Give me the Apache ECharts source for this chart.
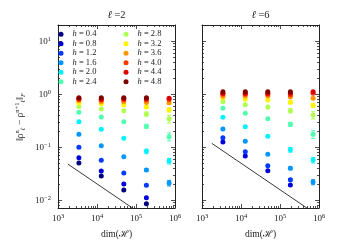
<!DOCTYPE html>
<html><head><meta charset="utf-8">
<script src="https://cdn.jsdelivr.net/npm/echarts@6/dist/echarts.min.js"></script>
<style>html,body{margin:0;padding:0;background:#fff}#c{width:338px;height:250px}</style>
</head><body><div id="c"></div>
<script>
const dims = [3432, 12870, 48620, 184756, 705432];
const hNames = ['h = 0.4','h = 0.8','h = 1.2','h = 1.6','h = 2.0','h = 2.4','h = 2.8','h = 3.2','h = 3.6','h = 4.0','h = 4.4','h = 4.8'];
const colors = ['#000080','#0000dc','#003aff','#0097ff','#00f3ff','#51ffae','#aeff51','#fff300','#ff9700','#ff3a00','#dc0000','#800000'];
const panelTitles = ['2', '6'];
// ℓ = 2 values, one array per h
const l2_h04 = [0.0506, 0.0288, 0.0156, 0.0086, null];
const l2_h08 = [0.0637, 0.0357, 0.0203, 0.0112, null];
const l2_h12 = [0.100, 0.0569, 0.0327, 0.0192, null];
const l2_h16 = [0.176, 0.107, 0.0665, 0.0373, 0.0212];
const l2_h20 = [0.304, 0.218, 0.148, 0.084, 0.0552];
const l2_h24 = [0.457, 0.373, 0.304, 0.249, 0.159];
const l2_h28 = [0.59, 0.528, 0.49, 0.425, 0.346];
const l2_h32 = [0.685, 0.665, 0.63, 0.576, 0.51];
const l2_h36 = [0.76, 0.725, 0.72, 0.70, 0.69];
const l2_h40 = [0.80, 0.78, 0.79, 0.78, 0.80];
const l2_h44 = [0.83, 0.81, 0.82, 0.82, 0.84];
const l2_h48 = [0.86, 0.86, 0.86, 0.86, null];
// ℓ = 6 values
const l6_h04 = [null, null, null, null, null];
const l6_h08 = [0.126, 0.0685, 0.0362, 0.0194, null];
const l6_h12 = [0.152, 0.0826, 0.045, 0.0245, null];
const l6_h16 = [0.221, 0.13, 0.0738, 0.0402, 0.0221];
const l6_h20 = [0.368, 0.245, 0.161, 0.090, 0.0575];
const l6_h24 = [0.545, 0.438, 0.347, 0.272, 0.176];
const l6_h28 = [0.725, 0.636, 0.576, 0.49, 0.407];
const l6_h32 = [0.86, 0.805, 0.78, 0.706, 0.62];
const l6_h36 = [0.917, 0.93, 0.93, 0.89, 0.84];
const l6_h40 = [1.0, 1.0, 1.0, 0.97, 1.05];
const l6_h44 = [1.05, 1.05, 1.05, 1.05, 1.12];
const l6_h48 = [1.12, 1.12, 1.12, 1.12, null];
// relative error half-widths at the two largest dims, one entry per h
const errL2c4 = [0, 0, 0, 0.06, 0.10, 0.09, 0.09, 0.06, 0.03, 0, 0, 0];
const errL2c5 = [0, 0, 0, 0.12, 0.12, 0.17, 0.17, 0.09, 0.05, 0.03, 0.03, 0];
const errL6c4 = [0, 0, 0.05, 0.06, 0.10, 0.09, 0.09, 0.06, 0.03, 0, 0, 0];
const errL6c5 = [0, 0, 0, 0.11, 0.12, 0.17, 0.16, 0.09, 0.05, 0.03, 0.03, 0];
// reference lines ~ dim^(-1/2)
const refLineX = [1778, 1000000];
const refLineL2 = [0.0484, 0.00204];
const refLineL6 = [0.119, 0.005];
const xTicks = [1000, 10000, 100000, 1000000];
const yTicks = [0.01, 0.1, 1, 10];

const L2 = [l2_h04,l2_h08,l2_h12,l2_h16,l2_h20,l2_h24,l2_h28,l2_h32,l2_h36,l2_h40,l2_h44,l2_h48];
const L6 = [l6_h04,l6_h08,l6_h12,l6_h16,l6_h20,l6_h24,l6_h28,l6_h32,l6_h36,l6_h40,l6_h44,l6_h48];
const panels = [
  {vals: L2, err: [errL2c4, errL2c5], line: refLineL2},
  {vals: L6, err: [errL6c4, errL6c5], line: refLineL6}
];
const FONT = 'Liberation Serif, DejaVu Serif, serif';
const supRich = {
  b: {fontFamily: FONT, fontSize: 9, color: '#222', lineHeight: 12},
  s: {fontFamily: FONT, fontSize: 6.5, color: '#222', verticalAlign: 'top', lineHeight: 12, padding: [0,0,4,0]}
};
function expLabel(v) {
  const e = Math.round(Math.log10(v));
  if (Math.abs(Math.log10(v) - e) > 1e-6) return '';
  return '{b|10}{s|' + (e < 0 ? '−' + (-e) : e) + '}';
}
const YMIN = Math.pow(10, -2.145), YMAX = Math.pow(10, 1.3075);
const grids = [
  {left: 58, top: 25, width: 117, height: 183},
  {left: 202, top: 25, width: 117, height: 183}
];
const xAxes = [], yAxes = [];
function axisBase(type, extra) {
  return Object.assign({
    type: 'log', logBase: 10,
    axisLine: {show: true, onZero: false, lineStyle: {color: '#222', width: 1}},
    axisTick: {show: true, inside: true, length: 4, lineStyle: {color: '#222', width: 0.8}},
    minorTick: {show: true, splitNumber: 9, length: 2, lineStyle: {color: '#222', width: 0.8}},
    splitLine: {show: false}, minorSplitLine: {show: false}
  }, extra);
}
for (let p = 0; p < 2; p++) {
  xAxes.push(axisBase('x', {gridIndex: p, position: 'bottom', min: 1000, max: 1000000,
    axisLabel: {show: true, margin: 5, formatter: expLabel, rich: supRich}}));
  xAxes.push(axisBase('x', {gridIndex: p, position: 'top', min: 1000, max: 1000000, axisLabel: {show: false}}));
  yAxes.push(axisBase('y', {gridIndex: p, position: 'left', min: YMIN, max: YMAX,
    axisLabel: {show: p === 0, margin: 7, formatter: expLabel, rich: supRich}}));
  yAxes.push(axisBase('y', {gridIndex: p, position: 'right', min: YMIN, max: YMAX, axisLabel: {show: false}}));
}
const series = [];
panels.forEach((pn, p) => {
  // error bars
  const errData = [];
  pn.err.forEach((arr, k) => {
    const j = 3 + k;
    arr.forEach((e, i) => {
      const v = pn.vals[i][j];
      if (v != null && e > 0) errData.push([dims[j], v * (1 - e), v * (1 + e), i]);
    });
  });
  series.push({
    type: 'custom', xAxisIndex: p * 2, yAxisIndex: p * 2, z: 1, silent: true,
    data: errData,
    encode: {x: 0, y: [1, 2]},
    renderItem: function (params, api) {
      const lo = api.coord([api.value(0), api.value(1)]);
      const hi = api.coord([api.value(0), api.value(2)]);
      const c = colors[api.value(3)];
      const w = 2;
      const st = {stroke: c, lineWidth: 1};
      return {type: 'group', children: [
        {type: 'line', shape: {x1: lo[0], y1: lo[1], x2: hi[0], y2: hi[1]}, style: st},
        {type: 'line', shape: {x1: lo[0] - w, y1: lo[1], x2: lo[0] + w, y2: lo[1]}, style: st},
        {type: 'line', shape: {x1: hi[0] - w, y1: hi[1], x2: hi[0] + w, y2: hi[1]}, style: st}
      ]};
    }
  });
  pn.vals.forEach((arr, i) => {
    const data = [];
    arr.forEach((v, j) => { if (v != null) data.push([dims[j], v]); });
    series.push({
      type: 'scatter', name: hNames[i], xAxisIndex: p * 2, yAxisIndex: p * 2, z: 2 + i,
      symbol: 'circle', symbolSize: 5, data: data,
      itemStyle: {color: colors[i], opacity: 1}
    });
  });
  series.push({
    type: 'line', xAxisIndex: p * 2, yAxisIndex: p * 2, z: 20, silent: true,
    data: refLineX.map((x, k) => [x, pn.line[k]]),
    symbol: 'none', clip: true, lineStyle: {color: '#222', width: 0.9}
  });
});
const legendText = {
  fontFamily: FONT, fontSize: 8.5, color: '#222', lineHeight: 9.5, padding: [0, 0, 0, 4],
  rich: {i: {fontFamily: FONT, fontSize: 8.5, fontStyle: 'italic', color: '#222'}}
};
function legendFmt(n) { return '{i|h}' + n.slice(1); }
const legends = [
  {data: hNames.slice(0, 6), left: 58.5, top: 29.5},
  {data: hNames.slice(6), left: 123.5, top: 29.5}
].map(l => Object.assign({
  orient: 'vertical', itemWidth: 5, itemHeight: 5, itemGap: 0, padding: 0,
  icon: 'circle', textStyle: legendText, formatter: legendFmt, selectedMode: false
}, l));

const graphics = [];
panelTitles.forEach((t, p) => {
  graphics.push({type: 'text', x: grids[p].left + grids[p].width / 2, y: 15,
    style: {text: '{i|ℓ} ={n|' + t + '}', align: 'center', verticalAlign: 'middle',
      rich: {i: {fontFamily: FONT, fontSize: 10.5, fontStyle: 'italic', fill: '#222'},
             n: {fontFamily: FONT, fontSize: 10.5, fill: '#222'}},
      font: '10.5px ' + FONT, fill: '#222'}});
  graphics.push({type: 'text', x: grids[p].left + grids[p].width / 2, y: 234,
    style: {text: 'dim(ℋ)', align: 'center', verticalAlign: 'middle',
      font: '9.5px ' + FONT, fill: '#222'}});
});
graphics.push({type: 'text', x: 20, y: 117, rotation: Math.PI / 2,
  style: {text: '‖ρ{sp|n}{sb|ℓ} − ρ{sp|n+1}{sb|ℓ}‖{sb|F}', align: 'center', verticalAlign: 'middle',
    font: '9.5px ' + FONT, fill: '#222',
    rich: {sp: {fontFamily: FONT, fontSize: 6.5, verticalAlign: 'top', fill: '#222', lineHeight: 13},
           sb: {fontFamily: FONT, fontSize: 6.5, fontStyle: 'italic', verticalAlign: 'bottom', fill: '#222', lineHeight: 13}}}});

const chart = echarts.init(document.getElementById('c'), null, {renderer: 'canvas'});
chart.setOption({
  animation: false,
  backgroundColor: '#fff',
  grid: grids,
  xAxis: xAxes,
  yAxis: yAxes,
  legend: legends,
  series: series,
  graphic: graphics
});
</script></body></html>
